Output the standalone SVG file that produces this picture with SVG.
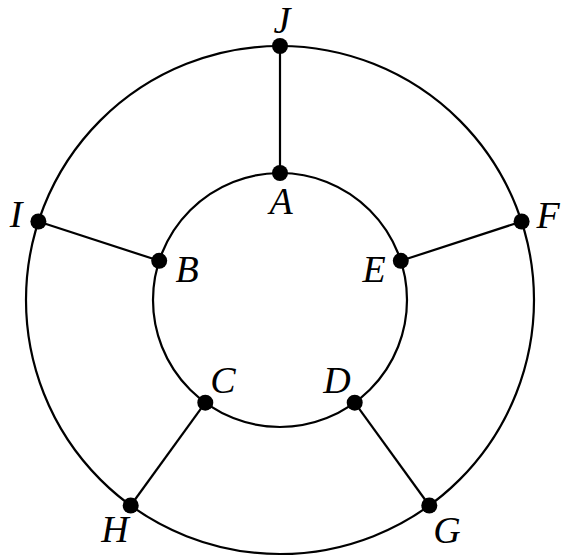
<svg xmlns="http://www.w3.org/2000/svg" width="570" height="557" viewBox="0 0 570 557">
<style>
.ring{fill:none;stroke:#000;stroke-width:2.2}
.edge{stroke:#000;stroke-width:2.2}
.dot{fill:#000}
.lbl{font-family:"Liberation Serif","DejaVu Serif",serif;font-style:italic;font-size:38px;text-anchor:middle;fill:#000}
</style>
<rect width="570" height="557" fill="#fff"/>
<g id="connectors">
<circle class="ring" cx="280" cy="300" r="254"/>
<circle class="ring" cx="280" cy="300" r="127"/>
<line class="edge" x1="280" y1="46" x2="280" y2="173"/>
<line class="edge" x1="38.4" y1="221.5" x2="159.2" y2="260.8"/>
<line class="edge" x1="521.6" y1="221.5" x2="400.8" y2="260.8"/>
<line class="edge" x1="130.7" y1="505.5" x2="205.3" y2="402.7"/>
<line class="edge" x1="429.3" y1="505.5" x2="354.7" y2="402.7"/>
</g>
<g id="J"><circle class="dot" cx="280" cy="46" r="8"/><text class="lbl" x="282" y="33">J</text></g>
<g id="A"><circle class="dot" cx="280" cy="173" r="8"/><text class="lbl" x="281" y="214">A</text></g>
<g id="I"><circle class="dot" cx="38.4" cy="221.5" r="8"/><text class="lbl" x="16" y="227">I</text></g>
<g id="B"><circle class="dot" cx="159.2" cy="260.8" r="8"/><text class="lbl" x="187" y="282">B</text></g>
<g id="E"><circle class="dot" cx="400.8" cy="260.8" r="8"/><text class="lbl" x="374" y="282">E</text></g>
<g id="F"><circle class="dot" cx="521.6" cy="221.5" r="8"/><text class="lbl" x="548" y="228">F</text></g>
<g id="C"><circle class="dot" cx="205.3" cy="402.7" r="8"/><text class="lbl" x="223" y="393">C</text></g>
<g id="D"><circle class="dot" cx="354.7" cy="402.7" r="8"/><text class="lbl" x="337" y="393">D</text></g>
<g id="H"><circle class="dot" cx="130.7" cy="505.5" r="8"/><text class="lbl" x="115" y="542">H</text></g>
<g id="G"><circle class="dot" cx="429.3" cy="505.5" r="8"/><text class="lbl" x="447" y="543">G</text></g>
</svg>
